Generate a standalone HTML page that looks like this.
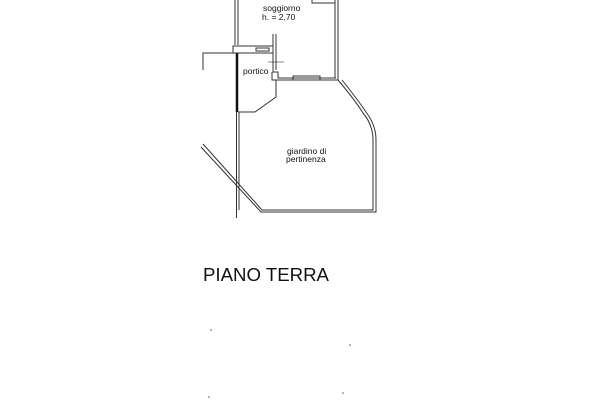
<!DOCTYPE html>
<html><head><style>html,body{margin:0;padding:0;background:#fff}</style></head>
<body>
<svg width="600" height="400" viewBox="0 0 600 400" xmlns="http://www.w3.org/2000/svg" font-family="Liberation Sans, sans-serif">
<g fill="none" stroke="#333" stroke-width="1">
<!-- left walls -->
<line x1="235" y1="0" x2="235" y2="45"/>
<line x1="238" y1="0" x2="238" y2="45"/>
<line x1="236.5" y1="110" x2="236.5" y2="218"/>
<line x1="239" y1="112" x2="239" y2="210"/>
<line x1="237" y1="53" x2="237" y2="112" stroke="#111" stroke-width="2.5"/>
<!-- soggiorno right wall -->
<line x1="335" y1="0" x2="335" y2="78"/>
<line x1="338" y1="0" x2="338" y2="80"/>
<polyline points="312,0 312,3 335,3"/>
<!-- portico -->
<rect x="233" y="46" width="40" height="7"/>
<rect x="256" y="48" width="13" height="3"/>
<polyline points="273,34 273,72 278,72 278,78 336,78"/>
<polyline points="276,34 276,70"/>
<polyline points="272,80 338,80"/>
<rect x="293" y="76" width="27" height="4"/>
<polyline points="272,72 272,80 276,80 276,97 255,112 238,112"/>
<line x1="268" y1="62" x2="284" y2="62" stroke-width="0.6"/>
<line x1="276" y1="55" x2="276" y2="70" stroke-width="0.6"/>
<!-- far left line -->
<polyline points="203,70 203,53 236,53"/>
<!-- garden -->
<path d="M338,80 Q355,100 363,113 Q373,125 373,140 L373,210 L262,210 L203,144"/>
<path d="M342,80 Q358,100 366,112 Q376,125 376,140 L376,212 L261,212 L201,147"/>
</g>
<g fill="#111" font-size="8.5">
<text x="263" y="11">soggiorno</text>
<text x="262" y="20">h. = 2,70</text>
<text x="243" y="74">portico</text>
<text x="287" y="154">giardino di</text>
<text x="286" y="162">pertinenza</text>
</g>
<text x="203" y="281" font-size="18" fill="#111" textLength="126" lengthAdjust="spacingAndGlyphs">PIANO TERRA</text>
<g fill="#555">
<circle cx="211" cy="330" r="0.8"/><circle cx="350" cy="345" r="0.8"/>
<circle cx="343" cy="393" r="0.8"/><circle cx="209" cy="397" r="0.8"/>
</g>
</svg>
</body></html>
